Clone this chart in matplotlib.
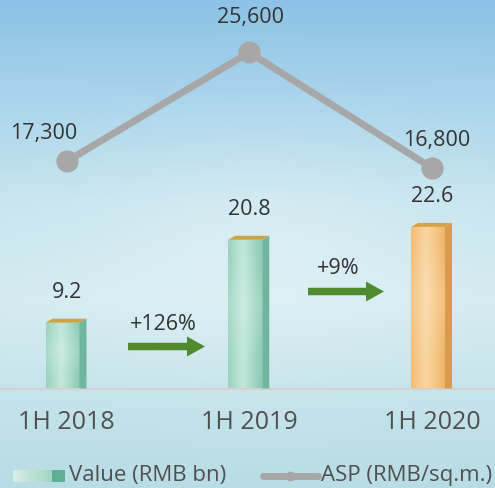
import numpy as np
import matplotlib
matplotlib.use("Agg")
import matplotlib.pyplot as plt
from matplotlib.patches import Rectangle, Polygon, FancyArrow
from matplotlib.colors import to_rgb

plt.rcParams['font.family'] = ['Open Sans', 'DejaVu Sans']

# ---- data ----
categories = ["1H 2018", "1H 2019", "1H 2020"]
values = [9.2, 20.8, 22.6]
value_labels = ["9.2", "20.8", "22.6"]
asp = [17300, 25600, 16800]
asp_labels = ["17,300", "25,600", "16,800"]
growth_labels = ["+126%", "+9%"]

W, H = 495, 488
fig = plt.figure(figsize=(W / 100, H / 100), dpi=100)

# ---- background (pixel coordinate axis) ----
bg = fig.add_axes([0, 0, 1, 1], zorder=0)
bg.set_xlim(0, W)
bg.set_ylim(H, 0)
bg.axis('off')

stops_y = [0, 100, 200, 300, 388, 488]
stops_c = ['#8bc2e6', '#a9d4eb', '#c7e5ef', '#d4ecf1', '#c6e4eb', '#b8dce5']
yy = np.arange(H)
cols = np.array([to_rgb(c) for c in stops_c])
img = np.zeros((H, W, 3))
for k in range(3):
    colk = np.interp(yy, stops_y, cols[:, k])
    img[:, :, k] = colk[:, None]
xx = np.arange(W)
X, Y = np.meshgrid(xx, yy)
blob = np.exp(-(((X - 260) / 170.0) ** 2 + ((Y - 250) / 110.0) ** 2))
img = img + (1 - img) * 0.25 * blob[:, :, None]
bg.imshow(np.clip(img, 0, 1), extent=(0, W, H, 0), aspect='auto', zorder=0)

# ---- main axes ----
base_px = 388.5
ax = fig.add_axes([0, (H - base_px) / H, 1, base_px / H], zorder=2)
ax.patch.set_alpha(0)
ax2 = ax.twinx()
ax2.patch.set_alpha(0)

px_per_cat = 182.75
x0_px = 66.5
xs = np.arange(len(categories))
ax.set_xlim(-x0_px / px_per_cat, (W - x0_px) / px_per_cat)
ax.set_ylim(0, base_px / 7.15)
ax2.set_ylim(0, base_px / 0.013125)
for a in (ax, ax2):
    a.axis('off')

ax.axhline(0, color='#d8cfcf', lw=1.3, zorder=3, clip_on=False)

# bars with 3D look
front_w = 34 / px_per_cat
shift = -4 / px_per_cat
dx = 7 / px_per_cat
dy = 4 / 7.15

def hgrad(c_left, c_mid, c_right, n=64, m=40):
    t = np.linspace(0, 1, n)
    cl, cm, cr = map(np.array, map(to_rgb, (c_left, c_mid, c_right)))
    row = np.where(t[:, None] < 0.45,
                   cl + (cm - cl) * (t[:, None] / 0.45),
                   cm + (cr - cm) * ((t[:, None] - 0.45) / 0.55))
    arr = np.repeat(row[None, :, :], m, axis=0)
    v = np.linspace(0, 1, m)[:, None, None]
    light = 0.15 * np.exp(-((v - 0.55) / 0.25) ** 2)
    arr = arr + (1 - arr) * light
    return np.clip(arr, 0, 1)

styles = [
    dict(l='#98d3be', m='#c2e9db', r='#8ccab4', side='#6fb59f', top='#c9a544'),
    dict(l='#98d3be', m='#c2e9db', r='#8ccab4', side='#6fb59f', top='#c9a544'),
    dict(l='#f4bc74', m='#fad6a2', r='#f0b466', side='#d99c4c', top='#d8a347'),
]

for i, (xc, v) in enumerate(zip(xs, values)):
    st = styles[i]
    xl = xc + shift - front_w / 2
    xr = xl + front_w
    rect = Rectangle((xl, 0), front_w, v, facecolor='none', edgecolor='none')
    ax.add_patch(rect)
    im = ax.imshow(hgrad(st['l'], st['m'], st['r']), extent=(xl, xr, 0, v),
                   aspect='auto', zorder=4, origin='lower')
    im.set_clip_path(rect)
    ax.add_patch(Polygon([(xr, 0), (xr + dx, 0), (xr + dx, v + dy), (xr, v)],
                         closed=True, facecolor=st['side'], edgecolor='none', zorder=4))
    ax.add_patch(Polygon([(xl, v), (xr, v), (xr + dx, v + dy), (xl + dx, v + dy)],
                         closed=True, facecolor=st['top'], edgecolor='none', zorder=5))
    ax.annotate(value_labels[i], (xc, v), xytext=(0, 30), textcoords='offset pixels',
                ha='center', va='center', fontsize=15.5, color='#333333', zorder=6)
    ax.annotate(categories[i], (xc, 0), xytext=(0, -34), textcoords='offset pixels',
                ha='center', va='center', fontsize=18, color='#505050',
                annotation_clip=False)

# ASP line
ax2.plot(xs, asp, color='#a7a7a7', lw=5, marker='o', ms=15, zorder=5,
         solid_capstyle='round')
asp_off = [(-23, 28), (1, 35), (5, 27)]
for i in range(3):
    ax2.annotate(asp_labels[i], (xs[i], asp[i]), xytext=asp_off[i],
                 textcoords='offset pixels', ha='center', va='center',
                 fontsize=15.5, color='#333333')

# growth arrows (pixel coords on overlay)
ov = fig.add_axes([0, 0, 1, 1], zorder=3)
ov.set_xlim(0, W)
ov.set_ylim(H, 0)
ov.axis('off')
ov.patch.set_alpha(0)

arrow_specs = [(128, 205, 346.5, 163, 325), (308, 384, 291.5, 338, 269)]
for (x_a, x_b, y_a, tx, ty), lab in zip(arrow_specs, growth_labels):
    ov.add_patch(FancyArrow(x_a, y_a, x_b - x_a, 0, width=7.5, head_width=20,
                            head_length=18, length_includes_head=True,
                            color='#4f8a2f', lw=0))
    ov.text(tx, ty, lab, ha='center', va='center', fontsize=15.5, color='#333333')

# legend
lg_rect = Rectangle((13, 470), 52, 12, facecolor='none', edgecolor='none')
ov.add_patch(lg_rect)
t = np.linspace(0, 1, 60)
c1, c2, c3 = [np.array(to_rgb(c)) for c in ('#d8efe6', '#a0d6c2', '#5fae98')]
row = np.where(t[:, None] < 0.75, c1 + (c2 - c1) * (t[:, None] / 0.75), c3)
lim = ov.imshow(np.repeat(row[None], 4, axis=0), extent=(13, 65, 482, 470),
                aspect='auto', zorder=2)
lim.set_clip_path(lg_rect)
ov.text(69, 476, "Value (RMB bn)", ha='left', va='center', fontsize=16, color='#505050')
ov.plot([263, 318], [476, 476], color='#a7a7a7', lw=5, solid_capstyle='round')
ov.plot([290], [476], 'o', color='#a7a7a7', ms=6)
ov.text(321, 476, "ASP (RMB/sq.m.)", ha='left', va='center', fontsize=16, color='#505050')

fig.savefig("out.png", dpi=100)
